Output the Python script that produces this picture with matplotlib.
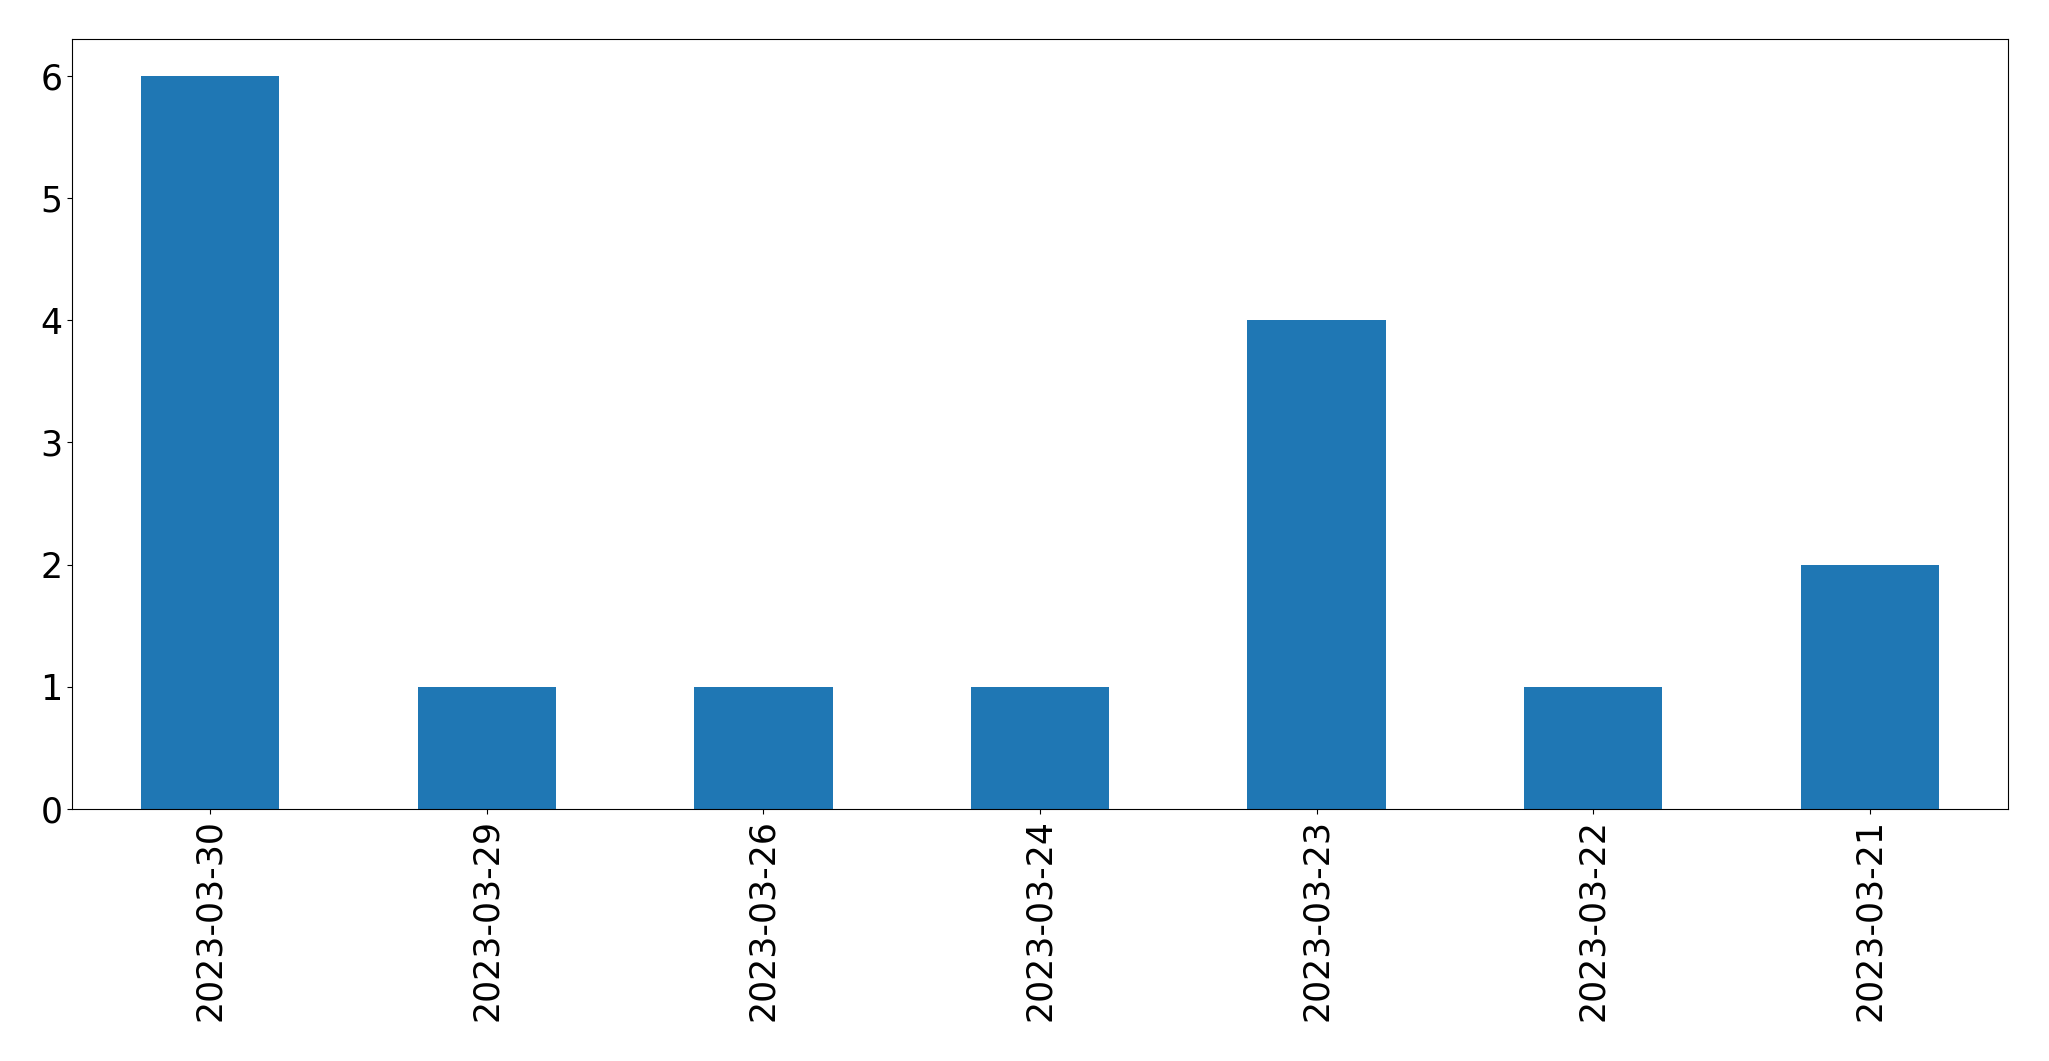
import matplotlib
matplotlib.use("Agg")
import matplotlib.pyplot as plt
import numpy as np

# fechas y conteos
fechas = ["2023-03-30", "2023-03-29", "2023-03-26", "2023-03-24",
          "2023-03-23", "2023-03-22", "2023-03-21"]
conteos = [6, 1, 1, 1, 4, 1, 2]

fig = plt.figure(figsize=(20.49, 10.61), dpi=100)
ax = fig.add_axes([72 / 2049, 1 - 809 / 1061, (2008 - 72) / 2049, (809 - 39) / 1061])

x = np.arange(len(fechas))
ax.bar(x, conteos, width=0.5, color="#1f77b4")
ax.set_xlim(-0.5, len(fechas) - 0.5)
ax.set_xticks(x)
ax.set_xticklabels(fechas, rotation=90)
ax.tick_params(axis="both", labelsize=25)

fig.savefig("out.png", dpi=100)
